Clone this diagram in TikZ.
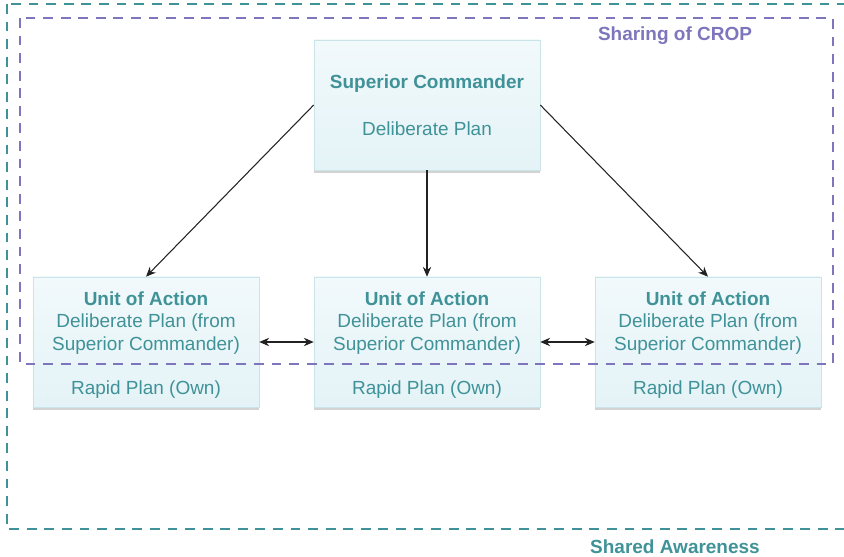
\documentclass[tikz,border=0pt]{standalone}
\usepackage{fontspec}
\setmainfont{Liberation Sans}
\usetikzlibrary{arrows.meta}
\usetikzlibrary{shadows}
\usepackage{xcolor}

\definecolor{planteal}{HTML}{3F9297}
\definecolor{croppurple}{HTML}{7E76BC}
\definecolor{planfill}{HTML}{E4F3F7}
\definecolor{planedge}{HTML}{CBE4EA}
\definecolor{linkgray}{HTML}{222222}

\begin{document}
\begin{tikzpicture}[x=0.025cm, y=-0.025cm, >={Stealth[length=7pt,width=6pt]},
    plan/.style={draw=planedge, top color=planfill!50, bottom color=planfill,
        minimum width=5.65cm, minimum height=3.25cm, inner sep=0pt,
        drop shadow={shadow xshift=0pt, shadow yshift=-2pt, opacity=0.35}},
    txt/.style={text=planteal, font=\fontsize{13.5}{16}\selectfont},
    head/.style={txt, font=\fontsize{13.5}{16}\selectfont\bfseries},
    area/.style={line width=2.1pt, dash pattern=on 7pt off 5.5pt},
    link/.style={linkgray, line width=0.75pt}]
        \useasboundingbox (0,0) rectangle (844,557);

        % boxes
        \node[plan] (sup) at (427,105) {};
        \node[plan] (u1) at (146,342) {};
        \node[plan] (u2) at (427,342) {};
        \node[plan] (u3) at (708,342) {};

        % areas
        \draw[area, planteal] (7,4) rectangle (860,529);
        \draw[area, croppurple] (20,18) rectangle (833,364);
        \node[head, text=croppurple] (crop) at (675,36) {Sharing of CROP};
        \node[head] (aware) at (675,547) {Shared Awareness};

        \node[head] (suphead) at (427,84) {Superior Commander};
        \node[txt] (supplan) at (427,129) {Deliberate Plan};

        \foreach \u/\x in {u1/146, u2/427, u3/708} {
            \node[head] (\u head) at (\x,299) {Unit of Action};
            \node[txt] (\u delib) at (\x,334) [align=center] {Deliberate Plan (from\\Superior Commander)};
            \node[txt] (\u rapid) at (\x,390) {Rapid Plan (Own)};
        }

        \draw[link, ->] (sup.west) -- (u1.north);
        \draw[link, ->] (sup.south) -- (u2.north);
        \draw[link, ->] (sup.east) -- (u3.north);
        \draw[link, <->] (u1.east) -- (u2.west);
        \draw[link, <->] (u2.east) -- (u3.west);
    \end{tikzpicture}
\end{document}
